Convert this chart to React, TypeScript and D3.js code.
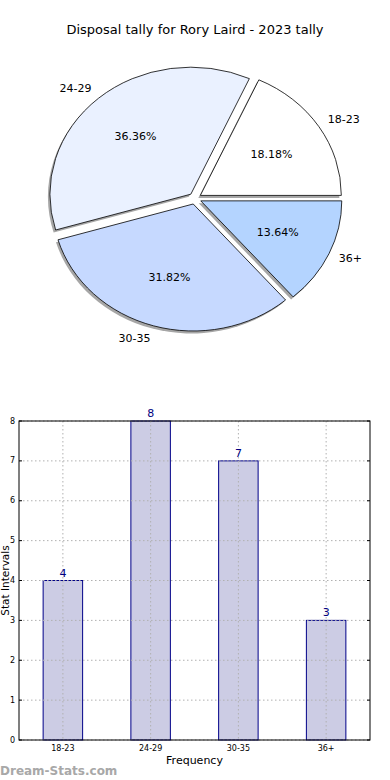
import React from "react";
import * as d3 from "d3";

const categories = ["18-23", "24-29", "30-35", "36+"];
const values = [4, 8, 7, 3];
const sliceColors = ["#ffffff", "#eaf1ff", "#c6d9ff", "#b4d4ff"];
const yTicks = [0, 1, 2, 3, 4, 5, 6, 7, 8];

const W = 390;
const H = 780;
const FONT = "DejaVu Sans, Verdana, sans-serif";

function Pie() {
  const cx = 195;
  const cy = 198.5;
  const rx = 141;
  const ry = 127;
  const explode = 0.045;
  const total = d3.sum(values);
  // matplotlib angles: counterclockwise from 3 o'clock
  let acc = 0;
  const slices = values.map((v, i) => {
    const t1 = (acc / total) * 2 * Math.PI;
    acc += v;
    const t2 = (acc / total) * 2 * Math.PI;
    return { i, t1, t2, mid: (t1 + t2) / 2, v };
  });
  const arc = d3.arc<any>().innerRadius(0).outerRadius(1);
  return (
    <g>
      {slices.map((s) => {
        const ox = explode * Math.cos(s.mid);
        const oy = -explode * Math.sin(s.mid);
        const d = arc({ startAngle: Math.PI / 2 - s.t1, endAngle: Math.PI / 2 - s.t2 }) as string;
        const tx = cx + ox * rx;
        const ty = cy + oy * ry;
        return (
          <path
            key={"sh" + s.i}
            d={d}
            transform={`translate(${tx - 2},${ty + 2.5}) scale(${rx},${ry})`}
            fill="#808080"
            opacity={0.7}
          />
        );
      })}
      {slices.map((s) => {
        const ox = explode * Math.cos(s.mid);
        const oy = -explode * Math.sin(s.mid);
        const d = arc({ startAngle: Math.PI / 2 - s.t1, endAngle: Math.PI / 2 - s.t2 }) as string;
        const tx = cx + ox * rx;
        const ty = cy + oy * ry;
        return (
          <path
            key={"p" + s.i}
            d={d}
            transform={`translate(${tx},${ty}) scale(${rx},${ry})`}
            fill={sliceColors[s.i]}
            stroke="#000"
            strokeWidth={0.8}
            vectorEffect="non-scaling-stroke"
          />
        );
      })}
      {slices.map((s) => {
        const ox = explode * Math.cos(s.mid);
        const oy = -explode * Math.sin(s.mid);
        const c = Math.cos(s.mid);
        const sn = Math.sin(s.mid);
        const lx = cx + (ox + 1.075 * c) * rx;
        const ly = cy + (oy - 1.1 * sn) * ry;
        const px = cx + (ox + 0.6 * c) * rx;
        const py = cy + (oy - 0.6 * sn) * ry;
        return (
          <g key={"t" + s.i} fontFamily={FONT} fontSize={11} fill="#000">
            <text x={lx} y={ly} textAnchor={c >= 0 ? "start" : "end"} dominantBaseline="central">
              {categories[s.i]}
            </text>
            <text x={px} y={py} textAnchor="middle" dominantBaseline="central">
              {((s.v / total) * 100).toFixed(2) + "%"}
            </text>
          </g>
        );
      })}
    </g>
  );
}

function Bars() {
  const left = 19;
  const right = 370;
  const top = 421;
  const bottom = 740;
  const x = d3.scaleLinear().domain([-0.5, categories.length - 0.5]).range([left, right]);
  const y = d3.scaleLinear().domain([0, 8]).range([bottom, top]);
  const bw = 0.45;
  return (
    <g fontFamily={FONT}>
      {categories.map((c, i) => (
        <rect
          key={"b" + c}
          x={x(i - bw / 2)}
          y={y(values[i])}
          width={x(i + bw / 2) - x(i - bw / 2)}
          height={y(0) - y(values[i])}
          fill="#ccccE4"
          stroke="#000088"
          strokeWidth={1}
        />
      ))}
      {yTicks.map((t) => (
        <line key={"gy" + t} x1={left} x2={right} y1={y(t)} y2={y(t)} stroke="#b0b0b0" strokeDasharray="1.5,2.5" strokeWidth={1} />
      ))}
      {categories.map((c, i) => (
        <line key={"gx" + c} x1={x(i)} x2={x(i)} y1={top} y2={bottom} stroke="#b0b0b0" strokeDasharray="1.5,2.5" strokeWidth={1} />
      ))}
      <rect x={left} y={top} width={right - left} height={bottom - top} fill="none" stroke="#000" strokeWidth={1} />
      {yTicks.map((t) => (
        <g key={"ty" + t}>
          <line x1={left} x2={left + 3} y1={y(t)} y2={y(t)} stroke="#000" />
          <line x1={right - 3} x2={right} y1={y(t)} y2={y(t)} stroke="#000" />
          <text x={left - 4} y={y(t)} fontSize={8} textAnchor="end" dominantBaseline="central" fill="#000">
            {t}
          </text>
        </g>
      ))}
      {categories.map((c, i) => (
        <g key={"tx" + c}>
          <text x={x(i)} y={bottom + 11} fontSize={8} textAnchor="middle" fill="#000">
            {c}
          </text>
        </g>
      ))}
      {categories.map((c, i) => (
        <text key={"v" + c} x={x(i)} y={y(values[i]) - 4} fontSize={11} textAnchor="middle" fill="#000080">
          {values[i]}
        </text>
      ))}
      <text x={(left + right) / 2} y={764} fontSize={11} textAnchor="middle" fill="#000">
        Frequency
      </text>
      <text transform={`translate(9,${(top + bottom) / 2}) rotate(-90)`} fontSize={10.5} textAnchor="middle" fill="#000">
        Stat Intervals
      </text>
    </g>
  );
}

export default function App() {
  return (
    <svg width={W} height={H} style={{ position: "absolute", left: 0, top: 0, background: "#fff" }}>
      <rect width={W} height={H} fill="#fff" />
      <text x={195} y={34} textAnchor="middle" fontFamily={FONT} fontSize={13} fill="#000">
        Disposal tally for Rory Laird - 2023 tally
      </text>
      <Pie />
      <Bars />
      <text x={0} y={775} fontFamily={FONT} fontSize={12} fontWeight="bold" fill="#a8a8a8">
        Dream-Stats.com
      </text>
    </svg>
  );
}
